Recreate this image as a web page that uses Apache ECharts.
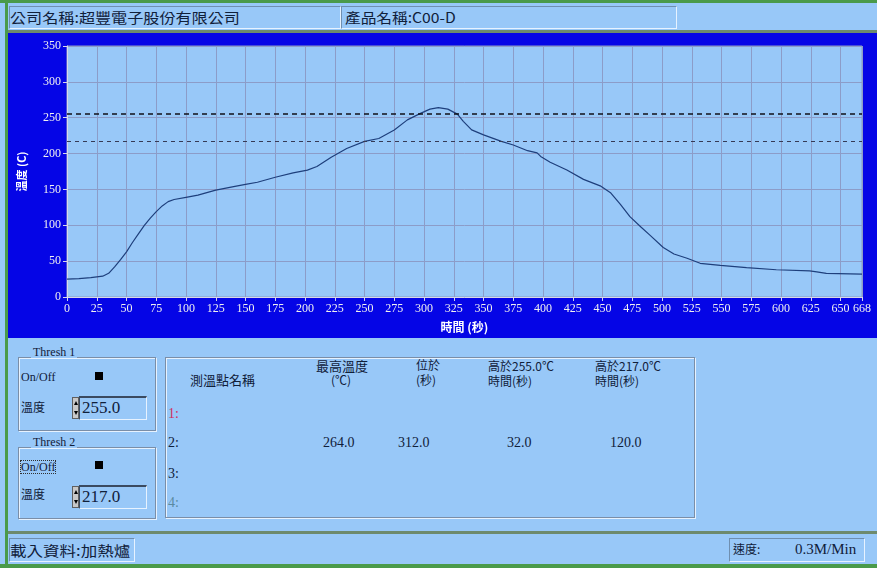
<!DOCTYPE html>
<html>
<head>
<meta charset="utf-8">
<script src="https://cdn.jsdelivr.net/npm/echarts@6/dist/echarts.min.js"></script>
<style>
  html, body { margin: 0; padding: 0; }
  body {
    width: 877px; height: 568px; position: relative; overflow: hidden;
    background: #98c8f8;
    font-family: "Noto Sans CJK TC", "Liberation Serif", serif;
    color: #10203a;
  }
  .abs { position: absolute; }
  .txt { position: absolute; white-space: nowrap; line-height: 1; }
  .wide { transform-origin: left top; }
  .num { font-family: "Liberation Serif", serif; }
  .sunken {
    position: absolute; box-sizing: border-box;
    border-top: 1px solid #6f8fb0; border-left: 1px solid #6f8fb0;
    border-bottom: 1px solid #e6f2ff; border-right: 1px solid #e6f2ff;
  }
  .etched {
    position: absolute; box-sizing: border-box;
    border: 1px solid #7a8ea8; box-shadow: 1px 1px 0 #e6f2ff, inset 1px 1px 0 #e6f2ff;
  }
  .legend { position: absolute; background: #98c8f8; padding: 0 2px; font-size: 12px; line-height: 1; font-family: "Liberation Serif", serif; }
  .sq { position: absolute; width: 8px; height: 8px; background: #000; }
  .spin { position: absolute; width: 7px; height: 22px; background: #c8c8c8; border: 1px solid #606060; box-sizing: border-box; }
  .spin::before, .spin::after { content: ''; position: absolute; left: 1px; border-left: 2px solid transparent; border-right: 2px solid transparent; }
  .spin::before { top: 3px; border-bottom: 4px solid #000; }
  .spin::after { bottom: 3px; border-top: 4px solid #000; }
  .field { position: absolute; box-sizing: border-box; border-top: 2px solid #3a4a60; border-left: 1px solid #3a4a60; border-bottom: 1px solid #e6f2ff; border-right: 1px solid #e6f2ff; }
</style>
</head>
<body>
<!-- window frame -->
<div class="abs" style="left:0;top:0;width:877px;height:3px;background:#4a9a4a"></div>
<div class="abs" style="left:5px;top:0;width:3px;height:568px;background:#4a9a4a"></div>
<div class="abs" style="left:0;top:564px;width:877px;height:4px;background:#4a9a4a"></div>

<!-- header fields -->
<div class="sunken" style="left:9px;top:6px;width:332px;height:23px"></div>
<div class="sunken" style="left:341px;top:6px;width:336px;height:23px"></div>
<div class="txt wide" id="company" style="left:10px;top:10px;font-size:14px;transform:scaleX(1.15)"></div>
<div class="txt wide" id="product" style="left:345px;top:10px;font-size:14px;transform:scaleX(1.12)"></div>
<div class="abs" style="left:8px;top:30px;width:869px;height:3px;background:#6d8a6d"></div>

<!-- chart panel -->
<div id="chart" class="abs" style="left:8px;top:33px;width:869px;height:305px"></div>

<!-- threshold groups -->
<div class="etched" style="left:18px;top:357px;width:138px;height:74px"></div>
<div class="legend" style="left:31px;top:346px">Thresh 1</div>
<div class="txt num" style="left:21px;top:371px;font-size:12px">On/Off</div>
<div class="sq" style="left:95px;top:372px"></div>
<div class="txt" style="left:21px;top:401px;font-size:12px">溫度</div>
<div class="spin" style="left:72px;top:397px"></div>
<div class="field" style="left:79px;top:396px;width:68px;height:24px"></div>
<div class="txt num" id="t1val" style="left:82px;top:399px;font-size:17px"></div>

<div class="etched" style="left:18px;top:447px;width:138px;height:72px"></div>
<div class="legend" style="left:31px;top:436px">Thresh 2</div>
<div class="txt num" style="left:21px;top:461px;font-size:12px;outline:1px dotted #303030">On/Off</div>
<div class="sq" style="left:95px;top:461px"></div>
<div class="txt" style="left:21px;top:488px;font-size:12px">溫度</div>
<div class="spin" style="left:72px;top:486px"></div>
<div class="field" style="left:79px;top:485px;width:68px;height:24px"></div>
<div class="txt num" id="t2val" style="left:82px;top:488px;font-size:17px"></div>

<!-- result table -->
<div class="etched" style="left:165px;top:357px;width:530px;height:161px"></div>
<div id="table"></div>

<!-- status bar -->
<div class="abs" style="left:8px;top:531px;width:869px;height:3px;background:#6d8a6d"></div>
<div class="sunken" style="left:9px;top:538px;width:126px;height:24px"></div>
<div class="txt wide" id="status" style="left:10px;top:543px;font-size:14px;transform:scaleX(1.18)"></div>
<div class="sunken" style="left:729px;top:538px;width:136px;height:24px"></div>
<div class="txt" style="left:733px;top:543px;font-size:12px">速度:</div>
<div class="txt num" id="speed" style="left:795px;top:542px;font-size:15px"></div>

<script>
// Oven profile: time (s) and measured temperature (°C)
const timeSec = [0, 10, 20, 25, 30, 35, 40, 45, 50, 55, 60, 65, 70, 75, 80, 85, 90, 100, 110, 125,
  140, 150, 160, 175, 190, 202, 210, 222, 235, 250, 262, 275, 286, 297, 305, 312, 320, 328, 333, 340,
  350, 365, 375, 387, 395, 398, 406, 420, 434, 448, 457, 465, 473, 482, 490, 501, 510, 521, 532, 549,
  571, 596, 624, 630, 638, 668];
const tempC = [25, 25.5, 27, 28, 29, 33, 42, 52, 63, 76, 88, 100, 110, 119, 127, 133, 136, 139, 142, 149,
  154, 157, 160, 167, 173, 177, 182, 195, 207, 217, 221, 233, 247, 256, 262, 264, 262, 255, 245, 233,
  226, 217, 212, 204, 201, 196, 188, 177, 164, 155, 145, 129, 112, 98, 86, 69, 60, 54, 47, 44,
  41, 38, 36.5, 35, 33, 32];

// axis ticks
const xTicks = [0, 25, 50, 75, 100, 125, 150, 175, 200, 225, 250, 275, 300, 325, 350, 375, 400, 425,
  450, 475, 500, 525, 550, 575, 600, 625, 650, 668];
const yTicks = [0, 50, 100, 150, 200, 250, 300, 350];

// thresholds and results
const thresh1 = 255.0;
const thresh2 = 217.0;
const probeNames = ['1:', '2:', '3:', '4:'];
const probeColors = ['#d03060', '#10203a', '#10203a', '#5a8aa0'];
const peakTemp = 264.0;
const peakTime = 312.0;
const aboveT1 = 32.0;
const aboveT2 = 120.0;

const companyText = '公司名稱:超豐電子股份有限公司';
const productText = '產品名稱:C00-D';
const statusText = '載入資料:加熱爐';
const speedText = '0.3M/Min';

document.getElementById('company').textContent = companyText;
document.getElementById('product').textContent = productText;
document.getElementById('status').textContent = statusText;
document.getElementById('speed').textContent = speedText;
document.getElementById('t1val').textContent = thresh1.toFixed(1);
document.getElementById('t2val').textContent = thresh2.toFixed(1);

// result table text
const table = document.getElementById('table');
function put(text, x, y, size, extra) {
  const d = document.createElement('div');
  d.className = 'txt' + (extra || '');
  d.style.left = x + 'px'; d.style.top = y + 'px'; d.style.fontSize = size + 'px';
  d.textContent = text;
  table.appendChild(d);
  return d;
}
put('測溫點名稱', 190, 373, 13);
put('最高溫度', 316, 359, 13);
put('(℃)', 331, 374, 12);
put('位於', 416, 359, 12);
put('(秒)', 416, 374, 12);
put('高於' + thresh1.toFixed(1) + '℃', 488, 360, 12);
put('時間(秒)', 488, 375, 12);
put('高於' + thresh2.toFixed(1) + '℃', 595, 360, 12);
put('時間(秒)', 595, 375, 12);
const rowY = [407, 436, 467, 496];
probeNames.forEach((n, i) => { put(n, 168, rowY[i], 14, ' num').style.color = probeColors[i]; });
put(peakTemp.toFixed(1), 323, 436, 14, ' num');
put(peakTime.toFixed(1), 398, 436, 14, ' num');
put(aboveT1.toFixed(1), 507, 436, 14, ' num');
put(aboveT2.toFixed(1), 610, 436, 14, ' num');

// chart
const chart = echarts.init(document.getElementById('chart'));
const gridColor = '#8c9cc8';
chart.setOption({
  animation: false,
  backgroundColor: '#0505e6',
  grid: {
    left: 58, right: 15, top: 13, bottom: 41,
    show: true, backgroundColor: '#98c8f8', borderColor: gridColor, borderWidth: 1
  },
  xAxis: {
    type: 'value', min: 0, max: 668, interval: 25,
    name: '時間 (秒)', nameLocation: 'middle', nameGap: 24,
    nameTextStyle: { color: '#ffffff', fontSize: 12, fontWeight: 'bold', fontFamily: 'Noto Sans CJK TC' },
    axisLine: { show: true, lineStyle: { color: '#d8d8e8', width: 1 } },
    axisTick: { show: true, length: 4, customValues: xTicks, lineStyle: { color: '#d8d8e8' } },
    axisLabel: { color: '#f0f0f0', fontSize: 12, fontFamily: 'Liberation Serif', margin: 6, customValues: xTicks },
    splitLine: { show: true, lineStyle: { color: gridColor, width: 1 } }
  },
  yAxis: {
    type: 'value', min: 0, max: 350, interval: 50,
    name: '溫度 (C)', nameLocation: 'middle', nameGap: 40, nameRotate: 90,
    nameTextStyle: { color: '#ffffff', fontSize: 11, fontWeight: 'bold', fontFamily: 'Noto Sans CJK TC' },
    axisLine: { show: true, lineStyle: { color: '#d8d8e8', width: 1 } },
    axisTick: { show: true, length: 4, customValues: yTicks, lineStyle: { color: '#d8d8e8' } },
    axisLabel: { color: '#f0f0f0', fontSize: 12, fontFamily: 'Liberation Serif', margin: 6, customValues: yTicks },
    splitLine: { show: true, lineStyle: { color: gridColor, width: 1 } }
  },
  series: [{
    type: 'line',
    data: timeSec.map((t, i) => [t, tempC[i]]),
    showSymbol: false,
    lineStyle: { color: '#1e3f7c', width: 1.2 },
    markLine: {
      silent: true, symbol: 'none', label: { show: false },
      data: [
        { yAxis: thresh1, lineStyle: { color: '#101018', type: [5, 4], width: 1.5 } },
        { yAxis: thresh2, lineStyle: { color: '#353a55', type: [4, 4], width: 1 } }
      ]
    }
  }]
});
</script>
</body>
</html>
